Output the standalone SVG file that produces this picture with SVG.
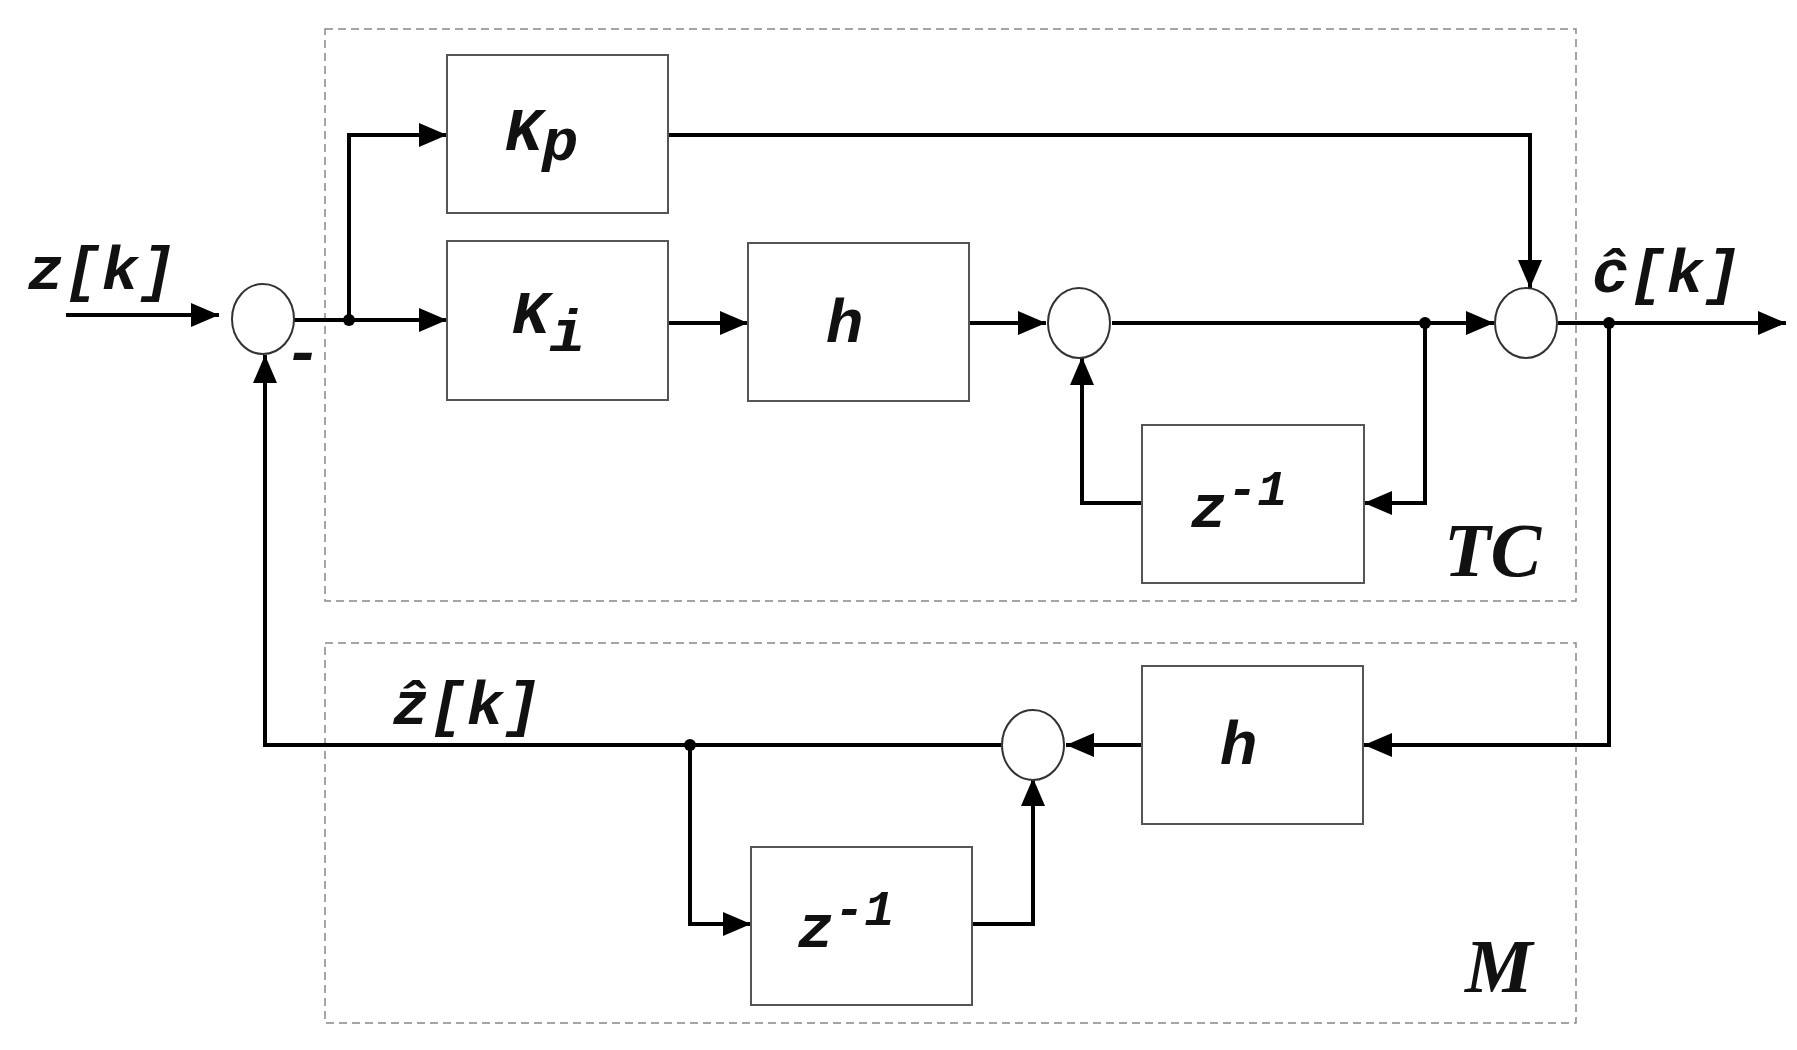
<svg xmlns="http://www.w3.org/2000/svg" width="1797" height="1050" viewBox="0 0 1797 1050">
<style>
.dash{fill:none;stroke:#888;stroke-width:1.5;stroke-dasharray:8,5}
.box{fill:#fff;stroke:#555;stroke-width:2}
.sum{fill:#fff;stroke:#333;stroke-width:2}
.w{fill:none;stroke:#000;stroke-width:4}
.t{font-family:"Liberation Mono",monospace;font-weight:bold;font-style:italic;font-size:62px;fill:#111}
.s{font-family:"Liberation Serif",serif;font-weight:bold;font-style:italic;font-size:76px;fill:#111}
</style>
<defs><marker id="a" markerWidth="8" markerHeight="8" refX="7" refY="4" orient="auto" markerUnits="strokeWidth"><path d="M0,1 L7,4 L0,7 z" fill="#000"/></marker></defs>
<rect width="1797" height="1050" fill="#fff"/>
<rect class="dash" x="325" y="29" width="1251" height="572"/>
<rect class="dash" x="325" y="643" width="1251" height="380"/>
<g id="connectors">
<path class="w" d="M66,315 H219" marker-end="url(#a)"/>
<path class="w" d="M294,320 H447" marker-end="url(#a)"/>
<path class="w" d="M349,320 V135 H447" marker-end="url(#a)"/>
<path class="w" d="M668,135 H1530 V288" marker-end="url(#a)"/>
<path class="w" d="M668,323 H748" marker-end="url(#a)"/>
<path class="w" d="M969,323 H1046" marker-end="url(#a)"/>
<path class="w" d="M1112,323 H1494" marker-end="url(#a)"/>
<path class="w" d="M1425,323 V503 H1364" marker-end="url(#a)"/>
<path class="w" d="M1142,503 H1082 V357" marker-end="url(#a)"/>
<path class="w" d="M1558,323 H1786" marker-end="url(#a)"/>
<path class="w" d="M1609,323 V745 H1364" marker-end="url(#a)"/>
<path class="w" d="M1142,745 H1066" marker-end="url(#a)"/>
<path class="w" d="M1001,745 H265 V355" marker-end="url(#a)"/>
<path class="w" d="M690,745 V924 H751" marker-end="url(#a)"/>
<path class="w" d="M972,924 H1033 V778" marker-end="url(#a)"/>
<circle cx="349" cy="320" r="6"/><circle cx="1425" cy="323" r="6"/><circle cx="1609" cy="323" r="6"/><circle cx="690" cy="745" r="6"/>
</g>
<g id="sum1"><ellipse class="sum" cx="263" cy="319" rx="31" ry="35"/></g>
<g id="sum2"><ellipse class="sum" cx="1079" cy="323" rx="31" ry="35"/></g>
<g id="sum3"><ellipse class="sum" cx="1526" cy="323" rx="31" ry="35"/></g>
<g id="sum4"><ellipse class="sum" cx="1033" cy="745" rx="31" ry="35"/></g>
<g id="kp"><rect class="box" x="447" y="55" width="221" height="158"/><text class="t" x="505" y="150">K<tspan font-size="60" dy="10">p</tspan></text></g>
<g id="ki"><rect class="box" x="447" y="241" width="221" height="159"/><text class="t" x="512" y="333">K<tspan font-size="60" dy="18">i</tspan></text></g>
<g id="h1"><rect class="box" x="748" y="243" width="221" height="158"/><text class="t" x="826" y="342">h</text></g>
<g id="zd1"><rect class="box" x="1142" y="425" width="222" height="158"/><text class="t" x="1190" y="527">z<tspan font-size="50" dy="-22">-1</tspan></text></g>
<g id="h2"><rect class="box" x="1142" y="666" width="221" height="158"/><text class="t" x="1220" y="764">h</text></g>
<g id="zd2"><rect class="box" x="751" y="847" width="221" height="158"/><text class="t" x="797" y="947">z<tspan font-size="50" dy="-22">-1</tspan></text></g>
<g id="labels">
<text class="t" x="27" y="289">z[k]</text>
<text class="t" x="1592" y="292">ĉ[k]</text>
<text class="t" x="392" y="724">ẑ[k]</text>
<text class="t" x="284" y="372" font-size="40">-</text>
<text class="s" x="1444" y="576">TC</text>
<text class="s" x="1465" y="992">M</text>
</g>
</svg>
